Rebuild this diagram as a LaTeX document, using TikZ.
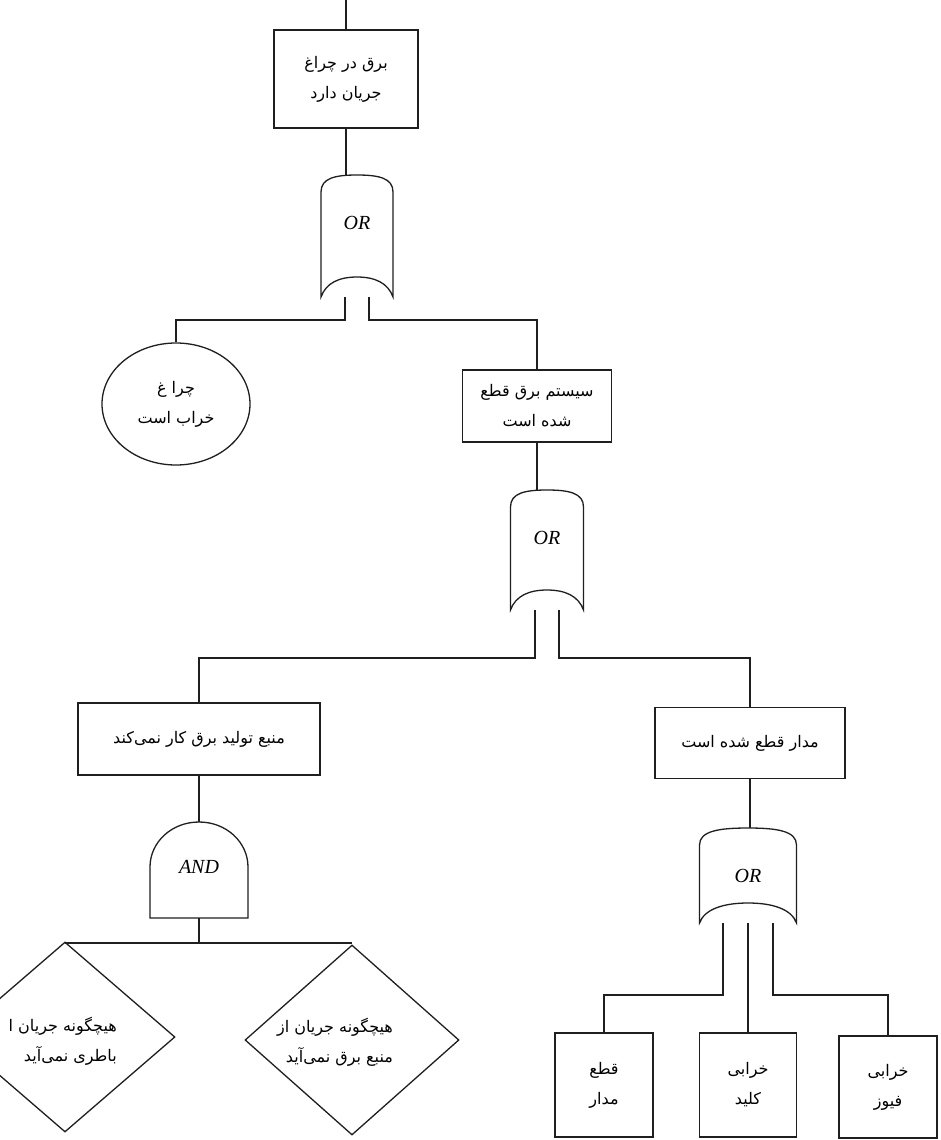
\documentclass[tikz,border=0pt]{standalone}
\usepackage{fontspec}
\setmainfont{Liberation Serif}
\newfontfamily\farsifont[Script=Arabic]{DejaVu Sans}
\TeXXeTstate=1
\newcommand\fa[1]{{\farsifont\beginR #1\endR}}
\usetikzlibrary{shapes.geometric}

\tikzset{
  ln/.style={line width=1.3pt, draw=black!88},
  fabox/.style={ln, draw, rectangle, align=center, inner sep=0pt,
     font=\fontsize{16}{30}\selectfont},
  fatext/.style={align=right, inner sep=0pt, font=\fontsize{16}{30}\selectfont},
  gatetext/.style={inner sep=0pt, font=\fontsize{20}{22}\selectfont\itshape},
  dia/.style={ln, draw, diamond, inner sep=0pt},
  pics/orgate/.style n args={2}{code={
    \draw[ln] ({-0.5*#1},17) -- ({-0.5*#1},#2)
      .. controls ({-0.5*#1+5},{#2-14}) and ({-0.25*#1},{#2-20}) .. (0,{#2-20})
      .. controls ({0.25*#1},{#2-20}) and ({0.5*#1-5},{#2-14}) .. ({0.5*#1},#2)
      -- ({0.5*#1},17)
      .. controls ({0.5*#1},3) and ({0.3*#1},0) .. (0,0)
      .. controls ({-0.3*#1},0) and ({-0.5*#1},3) .. ({-0.5*#1},17);
    \node[gatetext] (-label) at (0,48) {OR};
    \coordinate (-top) at (0,0);
    \coordinate (-l) at (-12,#2);
    \coordinate (-r) at (12,#2);
    \coordinate (-ll) at (-25,#2);
    \coordinate (-m) at (0,#2);
    \coordinate (-rr) at (25,#2);
  }},
  pics/andgate/.style n args={3}{code={
    \draw[ln] ({-0.5*#1},#2) -- ({-0.5*#1},#3) -- ({0.5*#1},#3) -- ({0.5*#1},#2)
      .. controls ({0.5*#1},{#2*0.45}) and ({0.28*#1},0) .. (0,0)
      .. controls ({-0.28*#1},0) and ({-0.5*#1},{#2*0.45}) .. ({-0.5*#1},#2);
    \node[gatetext] (-label) at (0,45) {AND};
    \coordinate (-top) at (0,0);
    \coordinate (-out) at (0,#3);
  }}
}

\begin{document}
\begin{tikzpicture}[x=1pt, y=-1pt]
  \clip (0,0) rectangle (941,1140);
  \fill[white] (0,0) rectangle (941,1140);

  % level 0
  \coordinate (topin) at (346,0);
  \node[fabox, minimum width=144, minimum height=98] (b1) at (346,79)
     {\fa{برق در چراغ}\\\fa{جریان دارد}};
  \pic (g1) at (357,175) {orgate={72}{122}};

  % level 1
  \node[ln, draw, ellipse, minimum width=148, minimum height=122, inner sep=0pt,
        align=center, font=\fontsize{16}{30}\selectfont] (lamp) at (176,404)
     {\fa{چرا غ}\\\fa{خراب است}};
  \node[fabox, minimum width=149, minimum height=72] (b2) at (537,406)
     {\fa{سیستم برق قطع}\\\fa{شده است}};
  \pic (g2) at (547,490) {orgate={73}{120}};

  % level 2
  \node[fabox, minimum width=242, minimum height=72] (b3) at (199,739)
     {\fa{منبع تولید برق کار نمی‌کند}};
  \node[fabox, minimum width=190, minimum height=71] (b4) at (750,743)
     {\fa{مدار قطع شده است}};
  \pic (and) at (199,822) {andgate={98}{45}{96}};
  \pic (g3) at (748,828) {orgate={97}{95}};

  % level 3
  \node[dia, minimum width=220, minimum height=190] (d1) at (65,1037) {};
  \node[fatext, anchor=east] (t1) at (117,1041)
     {\fa{هیچگونه جریان ا}\\\fa{باطری نمی‌آید}};
  \node[dia, minimum width=214, minimum height=190] (d2) at (352,1040) {};
  \node[fatext] (t2) at (335,1042)
     {\fa{هیچگونه جریان از}\\\fa{منبع برق نمی‌آید}};

  \node[fabox, minimum width=98, minimum height=104] (c1) at (604,1085)
     {\fa{قطع}\\\fa{مدار}};
  \node[fabox, minimum width=97, minimum height=104] (c2) at (748,1085)
     {\fa{خرابی}\\\fa{کلید}};
  \node[fabox, minimum width=98, minimum height=102] (c3) at (888,1087)
     {\fa{خرابی}\\\fa{فیوز}};

  % connectors
  \draw[ln] (topin) -- (b1.north);
  \draw[ln] (b1.south) -- (b1.south |- g1-top);
  \draw[ln] (g1-l) -- ++(0,23) -| (lamp.north);
  \draw[ln] (g1-r) -- ++(0,23) -| (b2.north);
  \draw[ln] (b2.south) -- (b2.south |- g2-top);
  \draw[ln] (g2-l) -- ++(0,48) -| (b3.north);
  \draw[ln] (g2-r) -- ++(0,48) -| (b4.north);
  \draw[ln] (b3.south) -- (and-top);
  \draw[ln] (b4.south) -- (b4.south |- g3-top);
  \draw[ln] (and-out) -- ++(0,25) coordinate (andbus);
  \draw[ln] (d1.north |- andbus) -- (d2.north |- andbus);
  \draw[ln] (g3-ll) -- ++(0,72) -| (c1.north);
  \draw[ln] (g3-m) -- (c2.north);
  \draw[ln] (g3-rr) -- ++(0,72) -| (c3.north);
\end{tikzpicture}
\end{document}
